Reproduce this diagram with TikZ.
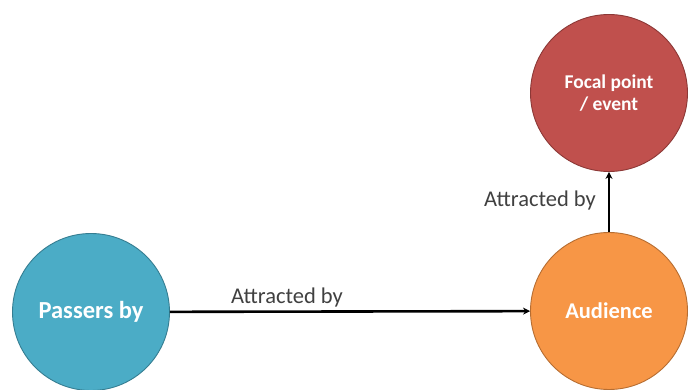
\documentclass[tikz,border=0pt]{standalone}
\usepackage{fontspec}
\setmainfont{Carlito}
\usetikzlibrary{arrows.meta}
\definecolor{cblue}{HTML}{4BACC6}
\definecolor{cblueD}{HTML}{357D91}
\definecolor{cred}{HTML}{C0504D}
\definecolor{credD}{HTML}{8C3836}
\definecolor{corange}{HTML}{F79646}
\definecolor{corangeD}{HTML}{B66D31}
\definecolor{labelgray}{HTML}{404040}
\tikzset{
  circ/.style={circle, minimum size=157pt, inner sep=0pt, line width=0.9pt,
    text=white, font=\fontsize{21}{23}\selectfont\bfseries, align=center},
  conn/.style={line width=2.6pt, -{Stealth[length=7pt,width=7pt]}},
  lbl/.style={text=labelgray, font=\fontsize{22.5}{24}\selectfont, inner sep=0pt}
}
\begin{document}
\begin{tikzpicture}[x=1pt,y=1pt]
\useasboundingbox (0,0) rectangle (688,390);
\node[circ, fill=cblue, draw=cblueD, font=\fontsize{24.5}{26}\selectfont\bfseries] (P) at (91,78) {Passers by};
\node[circ, fill=corange, draw=corangeD, font=\fontsize{22.5}{24}\selectfont\bfseries] (A) at (609,79) {Audience};
\node[circ, fill=cred, draw=credD, font=\fontsize{19.5}{22}\selectfont\bfseries] (F) at (609,297) {Focal point\\/ event};
\draw[conn] (P) -- (A);
\draw[conn] (A) -- (F);
\node[lbl] (l1) at (287,92) {Attracted by};
\node[lbl] (l2) at (540,189) {Attracted by};
\end{tikzpicture}
\end{document}
